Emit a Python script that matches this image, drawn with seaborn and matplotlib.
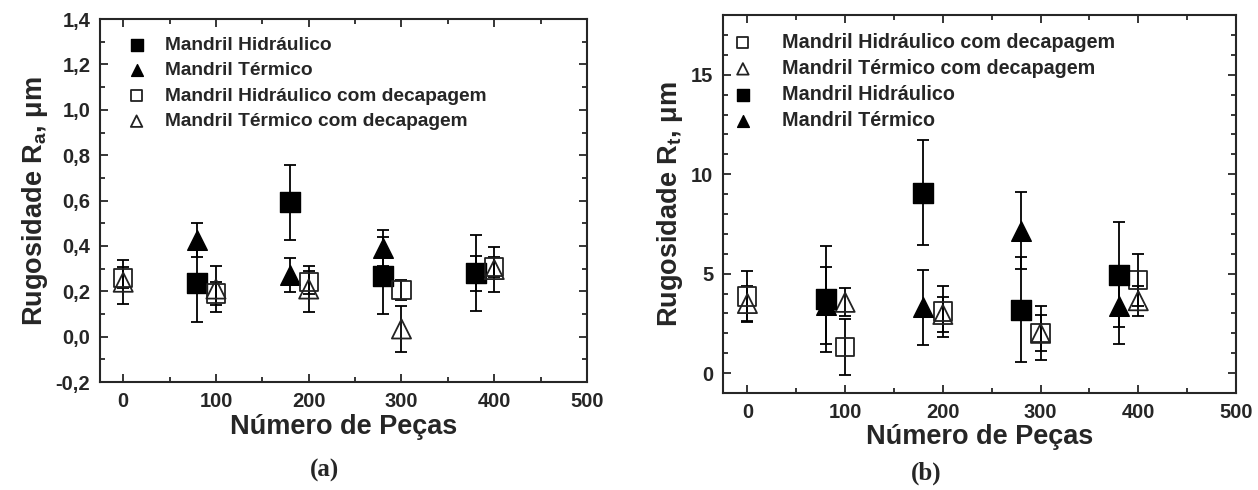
import numpy as np
import pandas as pd
import seaborn as sns
import matplotlib.pyplot as plt
from matplotlib.ticker import MultipleLocator, FuncFormatter

# x positions (number of parts)
x_filled = [80, 180, 280, 380]
x_hollow = [0, 100, 200, 300, 400]

# (a) Ra, um
hid_a = [0.235, 0.593, 0.268, 0.28]
hid_a_err = [0.17, 0.165, 0.17, 0.167]
ter_a = [0.425, 0.27, 0.39, 0.28]
ter_a_err = [0.075, 0.075, 0.078, 0.077]
hid_dec_a = [0.26, 0.19, 0.24, 0.206, 0.306]
hid_dec_a_err = [0.045, 0.05, 0.05, 0.045, 0.045]
ter_dec_a = [0.24, 0.21, 0.21, 0.034, 0.296]
ter_dec_a_err = [0.097, 0.103, 0.10, 0.103, 0.10]

# (b) Rt, um
hid_b = [3.73, 9.07, 3.19, 4.95]
hid_b_err = [2.65, 2.65, 2.65, 2.65]
ter_b = [3.4, 3.3, 7.17, 3.39]
ter_b_err = [1.95, 1.9, 1.95, 1.95]
hid_dec_b = [3.85, 1.3, 3.1, 2.0, 4.69]
hid_dec_b_err = [1.3, 1.4, 1.3, 1.35, 1.3]
ter_dec_b = [3.5, 3.56, 2.95, 2.0, 3.64]
ter_dec_b_err = [0.9, 0.7, 0.9, 0.9, 0.75]

lab_hid = 'Mandril Hidráulico'
lab_ter = 'Mandril Térmico'
lab_hid_dec = 'Mandril Hidráulico com decapagem'
lab_ter_dec = 'Mandril Térmico com decapagem'

sns.set_style('ticks')
plt.rcParams['font.family'] = ['Liberation Sans', 'DejaVu Sans']
plt.rcParams['font.weight'] = 'bold'
plt.rcParams['mathtext.fontset'] = 'custom'
plt.rcParams['mathtext.rm'] = 'Liberation Sans:bold'
plt.rcParams['mathtext.it'] = 'Liberation Sans:bold'
plt.rcParams['mathtext.bf'] = 'Liberation Sans:bold'

fig = plt.figure(figsize=(12.58, 4.9), dpi=100)
ax_a = fig.add_axes([0.0795, 0.2204, 0.3871, 0.7406])
ax_b = fig.add_axes([0.5747, 0.198, 0.4078, 0.771])


def draw(ax, x, y, err, marker, filled, label, size):
    ax.errorbar(x, y, yerr=err, fmt='none', ecolor='black', elinewidth=1.3,
                capsize=4, capthick=1.3, zorder=2)
    df = pd.DataFrame({'x': x, 'y': y})
    if filled:
        sns.scatterplot(data=df, x='x', y='y', ax=ax, marker=marker, s=size,
                        color='black', edgecolor='black', linewidth=1,
                        label=label, zorder=3)
    else:
        sns.scatterplot(data=df, x='x', y='y', ax=ax, marker=marker, s=size,
                        facecolor='none', edgecolor='#222222', linewidth=1.3,
                        label=label, zorder=3)


def style(ax, ylim, major, minor, ylabel, dec):
    ax.set_xlim(-25, 500)
    ax.set_ylim(*ylim)
    ax.xaxis.set_major_locator(MultipleLocator(100))
    ax.xaxis.set_minor_locator(MultipleLocator(50))
    ax.yaxis.set_major_locator(MultipleLocator(major))
    ax.yaxis.set_minor_locator(MultipleLocator(minor))
    if dec:
        ax.yaxis.set_major_formatter(FuncFormatter(lambda v, p: f'{v:.1f}'.replace('.', ',').replace('-0,0', '0,0')))
    ax.tick_params(which='both', direction='in', top=True, right=True,
                   width=1.3, labelsize=14.5, pad=7)
    ax.tick_params(which='major', length=6)
    ax.tick_params(which='minor', length=3.5)
    for lbl in ax.get_xticklabels() + ax.get_yticklabels():
        lbl.set_fontweight('bold')
    for sp in ax.spines.values():
        sp.set_linewidth(1.5)
        sp.set_visible(True)
    ax.set_xlabel('Número de Peças', fontsize=19.5, fontweight='bold', labelpad=2)
    ax.set_ylabel(ylabel, fontsize=19.5, fontweight='bold', labelpad=4)


# panel (a)
draw(ax_a, x_filled, hid_a, hid_a_err, 's', True, lab_hid, 200)
draw(ax_a, x_filled, ter_a, ter_a_err, '^', True, lab_ter, 200)
draw(ax_a, x_hollow, hid_dec_a, hid_dec_a_err, 's', False, lab_hid_dec, 170)
draw(ax_a, x_hollow, ter_dec_a, ter_dec_a_err, '^', False, lab_ter_dec, 190)
style(ax_a, (-0.2, 1.4), 0.2, 0.1, r'Rugosidade R$_\mathrm{a}$, μm', True)
ax_a.legend(loc='upper left', bbox_to_anchor=(0.02, 1.0), frameon=False,
            markerscale=0.6, handlelength=1.0, handletextpad=1.0,
            labelspacing=0.42, prop={'weight': 'bold', 'size': 13.8})

# panel (b)
draw(ax_b, x_hollow, hid_dec_b, hid_dec_b_err, 's', False, lab_hid_dec, 170)
draw(ax_b, x_hollow, ter_dec_b, ter_dec_b_err, '^', False, lab_ter_dec, 190)
draw(ax_b, x_filled, hid_b, hid_b_err, 's', True, lab_hid, 200)
draw(ax_b, x_filled, ter_b, ter_b_err, '^', True, lab_ter, 200)
style(ax_b, (-1, 18), 5, 1, r'Rugosidade R$_\mathrm{t}$, μm', False)
ax_b.legend(loc='upper left', bbox_to_anchor=(-0.015, 1.0), frameon=False,
            markerscale=0.6, handlelength=1.0, handletextpad=1.5,
            labelspacing=0.36, prop={'weight': 'bold', 'size': 14.2})

fig.text(0.258, 0.04, '(a)', fontsize=18, fontweight='bold',
         family='Liberation Serif', ha='center', va='center')
fig.text(0.736, 0.035, '(b)', fontsize=18, fontweight='bold',
         family='Liberation Serif', ha='center', va='center')

fig.savefig('out.png', dpi=100)
